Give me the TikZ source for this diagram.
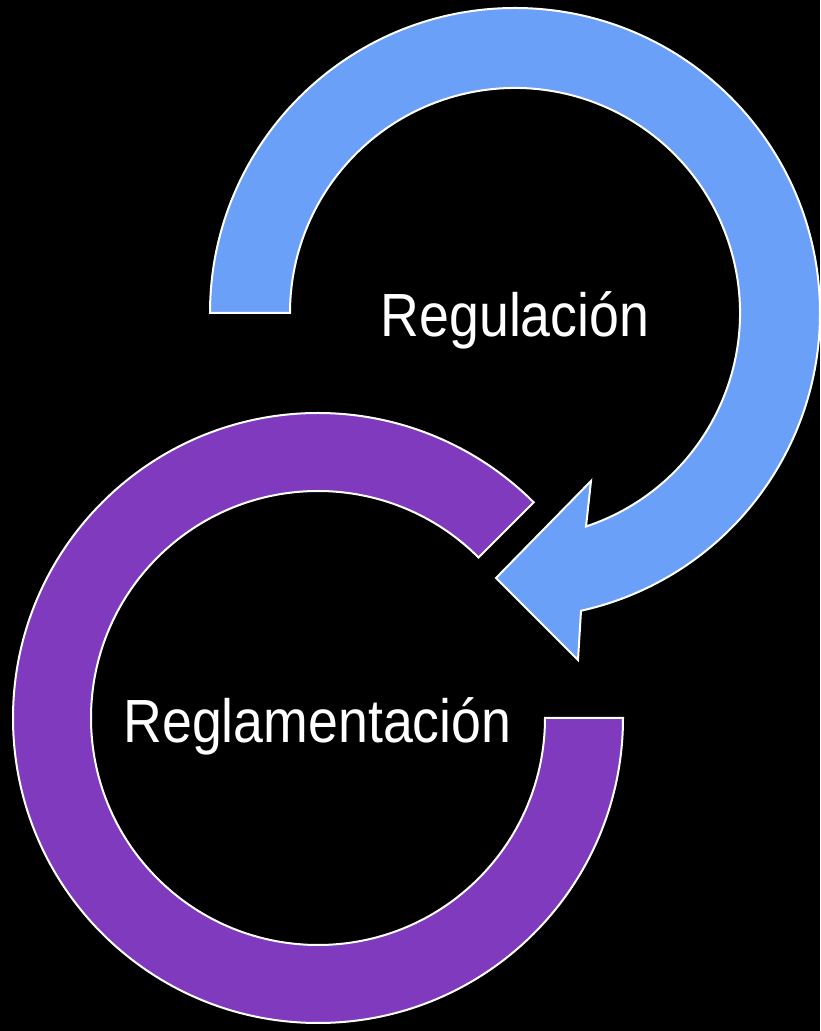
\documentclass[tikz,border=0pt]{standalone}
\usepackage{fontspec}
\setmainfont{Liberation Sans}[FakeStretch=0.88]
\definecolor{arrowblue}{RGB}{106,160,248}
\definecolor{arrowpurple}{RGB}{128,58,190}
\begin{document}
\begin{tikzpicture}[x=1pt,y=1pt,
  band/.style={draw=white,line width=2pt,line join=miter},
  label/.style={text=white,font=\fontsize{61}{70}\selectfont,inner sep=0pt,anchor=base}]
\fill[black] (0,0) rectangle (820,1031);
\useasboundingbox (0,0) rectangle (820,1031);
% blue circular arrow, centre (515,718)
\coordinate (bc) at (515,718);
\draw[band,fill=arrowblue]
  ([shift={(180:305)}]bc) arc[start angle=180,end angle=-77.5,radius=305]
  -- (578,371) -- (496,453) -- (591,550)
  -- ([shift={(-71.6:225)}]bc) arc[start angle=-71.6,end angle=180,radius=225]
  -- cycle;
% purple circular band, centre (318,313)
\coordinate (pc) at (318,313);
\draw[band,fill=arrowpurple]
  ([shift={(0:305)}]pc) arc[start angle=0,end angle=-315,radius=305]
  -- ([shift={(45:227)}]pc) arc[start angle=-315,end angle=0,radius=227]
  -- cycle;
\node[label] (reg) at (515,694) {Regulación};
\node[label] (regl) at (317.5,288) {Reglamentación};
\end{tikzpicture}
\end{document}
